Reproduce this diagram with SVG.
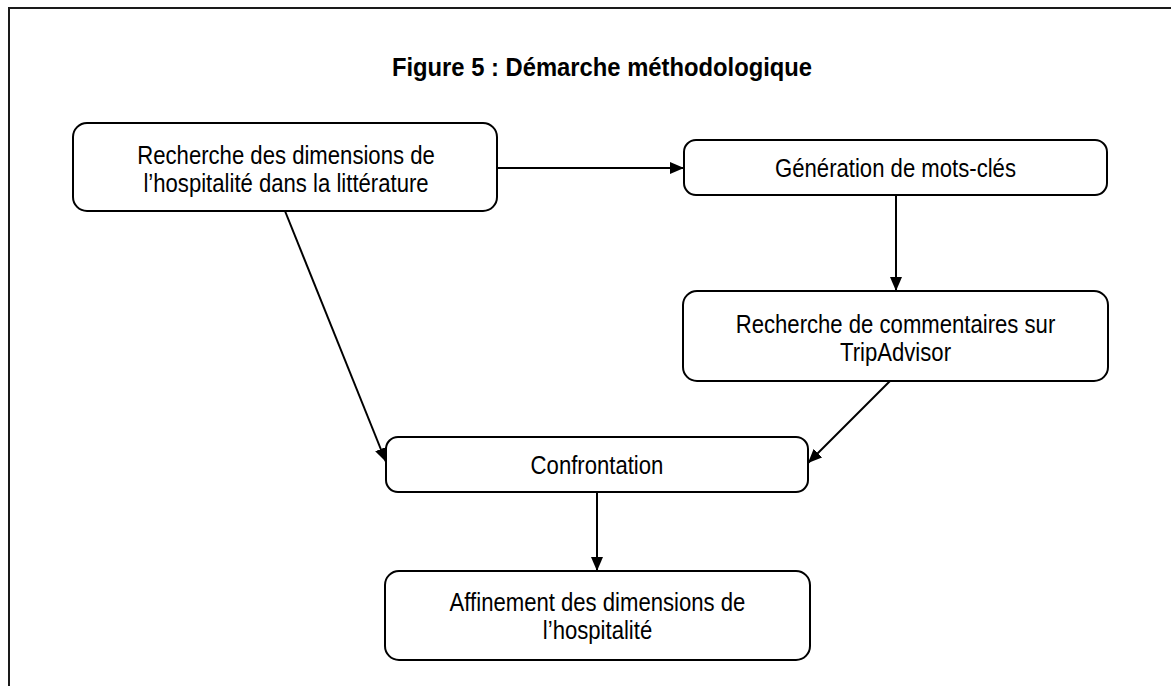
<svg xmlns="http://www.w3.org/2000/svg" width="1171" height="686" viewBox="0 0 1171 686">
  <defs>
    <style>
      .box { fill: #ffffff; stroke: #000000; stroke-width: 2; }
      .lbl { font-family: "Liberation Sans", Arial, sans-serif; font-size: 25px; fill: #000000; text-anchor: middle; }
      .title { font-family: "Liberation Sans", Arial, sans-serif; font-size: 26px; font-weight: bold; fill: #000000; text-anchor: middle; }
      .conn { stroke: #000000; stroke-width: 2; fill: none; marker-end: url(#arrow); }
    </style>
    <marker id="arrow" viewBox="0 0 14 12" refX="14" refY="6" markerWidth="14" markerHeight="12" markerUnits="userSpaceOnUse" orient="auto">
      <path d="M0,0 L14,6 L0,12 Z" fill="#000000"/>
    </marker>
  </defs>
  <rect x="0" y="0" width="1171" height="686" fill="#ffffff"/>
  <rect id="frame" x="9" y="8" width="1200" height="720" fill="none" stroke="#1a1a1a" stroke-width="2"/>
  <g id="title" transform="translate(602,0) scale(0.915,1)">
    <text class="title" x="0" y="76">Figure 5 : Démarche méthodologique</text>
  </g>
  <g id="connectors">
    <line class="conn" x1="497" y1="168" x2="684" y2="168"/>
    <line class="conn" x1="896" y1="195" x2="896" y2="291"/>
    <line class="conn" x1="890" y1="381" x2="808" y2="463"/>
    <line class="conn" x1="285" y1="211" x2="386" y2="462"/>
    <line class="conn" x1="597" y1="492" x2="597" y2="571"/>
  </g>
  <g id="node1">
    <rect class="box" x="73" y="123" width="424" height="88" rx="14"/>
    <g transform="translate(286,0) scale(0.885,1)">
      <text class="lbl" x="0" y="164">Recherche des dimensions de</text>
      <text class="lbl" x="0" y="192">l’hospitalité dans la littérature</text>
    </g>
  </g>
  <g id="node2">
    <rect class="box" x="684" y="140" width="423" height="55" rx="12"/>
    <g transform="translate(895.5,0) scale(0.885,1)">
      <text class="lbl" x="0" y="177">Génération de mots-clés</text>
    </g>
  </g>
  <g id="node3">
    <rect class="box" x="683" y="291" width="425" height="90" rx="14"/>
    <g transform="translate(895.5,0) scale(0.885,1)">
      <text class="lbl" x="0" y="333">Recherche de commentaires sur</text>
      <text class="lbl" x="0" y="361">TripAdvisor</text>
    </g>
  </g>
  <g id="node4">
    <rect class="box" x="386" y="437" width="422" height="55" rx="12"/>
    <g transform="translate(597,0) scale(0.885,1)">
      <text class="lbl" x="0" y="474">Confrontation</text>
    </g>
  </g>
  <g id="node5">
    <rect class="box" x="385" y="571" width="425" height="89" rx="14"/>
    <g transform="translate(597.5,0) scale(0.885,1)">
      <text class="lbl" x="0" y="611">Affinement des dimensions de</text>
      <text class="lbl" x="0" y="639">l’hospitalité</text>
    </g>
  </g>
</svg>
